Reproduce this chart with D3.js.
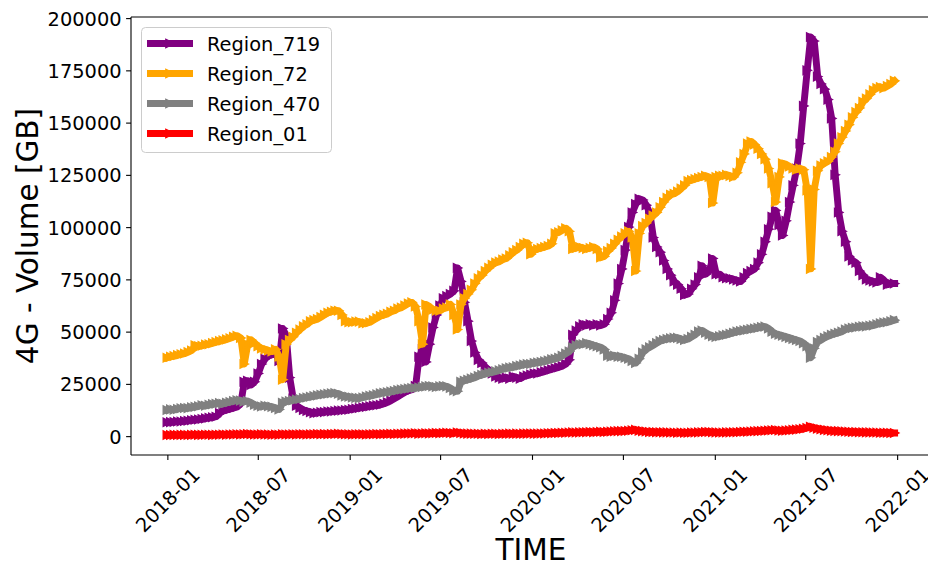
<!DOCTYPE html>
<html><head><meta charset="utf-8">
<script src="https://cdn.jsdelivr.net/npm/d3@7"></script>
<style>body{margin:0;background:#fff}svg{display:block}text{font-family:"DejaVu Sans",sans-serif;fill:#000}</style>
</head><body><svg id="c" width="928" height="567"></svg>
<script>
// ---- data (values in thousand GB, weekly from startDate) ----
const startDate = "2018-01-01";
const seriesNames = ["Region_719", "Region_72", "Region_470", "Region_01"];
const seriesColors = ["#800080", "#ffa500", "#808080", "#ff0000"];

const region719 = [
  6.6,6.7,6.8,7.0,7.0,7.2,7.4,7.6,7.8,8.0,
  8.2,8.5,8.8,9.0,9.3,11.0,12.0,12.5,13.0,13.5,
  14.0,15.5,26.0,26.5,24.5,26.0,30.0,34.5,37.0,38.5,
  39.0,39.5,36.0,51.5,48.0,28.0,18.0,14.5,13.5,12.5,
  12.0,11.5,11.0,11.2,11.5,11.5,11.8,11.8,12.0,12.2,
  12.3,12.5,12.6,13.0,13.2,13.5,13.8,14.0,14.3,14.6,
  14.8,15.0,15.5,16.2,17.0,18.0,19.0,20.0,21.0,21.8,
  22.2,24.0,38.0,41.5,35.5,44.0,52.0,58.0,62.5,66.0,
  67.0,68.0,69.5,80.5,74.0,64.0,55.0,45.5,40.0,36.5,
  35.0,33.0,31.5,30.0,28.5,28.0,27.5,28.0,27.5,28.5,
  28.0,27.5,28.5,29.0,29.5,30.0,30.0,30.5,31.0,31.5,
  32.0,32.5,33.0,33.5,34.5,36.5,48.5,50.5,52.5,53.5,
  53.0,53.5,53.0,53.5,53.0,53.5,56.0,59.0,65.0,73.0,
  80.0,89.0,100.0,107.0,111.0,113.5,113.0,110.5,106.5,95.0,
  90.5,88.0,84.0,80.0,77.0,74.0,72.5,70.5,67.5,68.0,
  70.5,72.5,76.0,81.5,77.5,79.0,85.0,77.5,77.5,76.0,
  75.5,75.5,75.0,74.5,74.0,76.0,78.0,79.0,80.0,83.0,
  87.0,93.0,99.0,105.0,108.0,101.0,96.0,103.0,112.0,120.0,
  128.0,140.0,158.0,175.0,191.0,189.0,172.0,168.5,166.0,161.0,
  152.0,125.0,107.0,98.0,93.0,86.0,84.0,83.0,79.0,77.0,
  75.0,74.5,74.0,73.5,76.0,74.5,72.5,73.0,73.0
];
const region72 = [
  37.5,38.0,38.3,38.8,39.2,39.5,40.2,41.0,43.5,43.0,
  43.2,43.8,44.0,44.5,45.0,45.5,45.8,46.3,46.8,47.5,
  48.0,47.0,34.5,44.0,46.0,44.5,43.0,42.0,41.5,41.0,
  40.5,41.5,38.0,27.0,44.0,46.0,47.5,49.5,51.0,52.5,
  53.5,55.0,55.5,56.0,57.0,58.0,59.0,59.5,60.0,60.0,
  58.0,55.0,54.5,54.5,54.8,54.8,54.0,54.0,54.5,55.5,
  56.5,57.5,58.0,58.5,59.5,60.0,61.0,61.5,62.5,63.5,
  64.0,62.0,55.0,44.0,63.0,62.0,60.5,60.0,60.0,61.0,
  61.5,63.0,58.0,51.0,63.0,66.0,68.0,70.0,73.0,75.5,
  77.0,79.0,80.5,82.0,83.0,83.5,84.5,85.0,86.5,88.0,
  89.0,90.5,92.0,92.5,87.0,89.0,89.5,90.0,90.5,91.0,
  92.0,97.0,97.5,98.5,99.5,98.0,89.5,90.0,90.5,90.0,
  89.5,90.0,90.5,89.5,85.5,86.0,88.5,90.0,92.0,94.0,
  95.5,97.0,98.0,95.0,79.0,97.0,100.5,102.0,104.0,105.5,
  107.0,109.5,112.0,114.0,115.5,116.0,117.0,118.5,120.0,122.0,
  122.5,123.0,123.5,124.0,124.5,124.0,111.5,124.0,124.5,124.5,
  125.0,124.5,124.0,126.0,131.0,135.0,140.0,141.0,139.5,137.5,
  135.0,132.5,128.0,121.0,112.0,124.0,130.5,130.0,129.0,128.0,
  127.5,128.0,127.5,117.5,80.0,118.0,127.0,129.5,130.5,131.5,
  133.5,136.0,140.0,143.0,146.0,149.0,152.5,155.0,157.0,160.0,
  161.5,163.5,165.5,166.5,167.0,166.5,167.5,168.5,170.0
];
const region470 = [
  12.5,12.8,12.6,13.0,13.3,13.5,13.4,13.8,14.0,14.3,
  14.8,14.5,15.0,15.3,15.5,15.8,15.5,16.0,16.3,16.8,
  17.2,17.0,16.5,16.8,16.0,15.0,14.5,14.2,14.5,14.3,
  14.0,13.5,12.8,16.0,16.5,16.8,17.2,17.5,17.8,18.2,
  18.5,18.8,19.2,19.5,19.8,20.0,20.3,20.5,20.6,20.3,
  19.5,19.0,18.8,18.5,18.3,18.2,18.5,19.0,19.3,19.6,
  20.0,20.5,20.8,21.0,21.3,21.6,22.0,22.3,22.5,22.8,
  23.0,23.0,23.3,23.5,23.8,24.0,23.8,23.5,23.8,24.0,
  23.8,23.0,21.8,21.5,26.0,26.5,27.0,27.5,28.0,28.8,
  29.3,29.8,30.3,30.6,31.0,31.5,32.0,32.5,32.8,33.0,
  33.5,33.8,34.2,34.5,34.5,35.0,35.2,35.5,35.8,36.2,
  36.8,37.0,37.5,38.5,39.5,40.5,42.5,43.5,44.0,44.0,
  44.5,44.0,43.5,43.0,42.5,41.5,38.5,38.0,38.5,38.0,
  38.0,37.5,37.0,36.0,35.0,37.0,40.0,41.5,42.5,43.5,
  44.5,45.5,46.0,46.5,46.8,47.0,47.0,46.5,46.0,46.5,
  47.5,48.5,50.0,50.5,49.5,48.5,47.8,47.5,47.8,48.2,
  48.5,49.0,49.5,50.0,50.3,50.6,50.9,51.2,51.5,51.8,
  52.2,52.4,51.5,50.0,49.0,48.5,48.0,47.5,47.0,46.5,
  46.0,45.5,44.5,43.0,37.5,42.0,45.0,46.0,47.0,47.8,
  48.5,49.0,49.5,50.0,51.0,51.5,51.8,52.0,52.3,52.5,
  52.5,52.8,53.0,53.5,54.0,54.3,54.5,55.0,55.5
];
const region01 = [
  0.5,0.5,0.6,0.5,0.6,0.6,0.5,0.6,0.7,0.6,
  0.6,0.7,0.7,0.6,0.7,0.7,0.8,0.7,0.8,0.8,
  0.9,0.8,0.9,1.0,0.9,0.8,0.8,0.9,0.8,0.8,
  0.7,0.8,0.7,0.9,0.8,0.8,0.9,0.8,0.9,0.9,
  0.8,0.9,0.9,1.0,0.9,1.0,0.9,1.0,1.0,1.1,
  1.0,0.9,0.9,0.8,0.9,0.9,0.9,0.8,0.9,0.9,
  1.0,0.9,1.0,1.0,1.1,1.0,1.1,1.1,1.2,1.3,
  1.3,1.4,1.2,1.3,1.4,1.3,1.4,1.5,1.4,1.5,
  1.6,1.5,1.4,1.7,1.5,1.3,1.2,1.2,1.1,1.1,
  1.0,1.1,1.0,1.1,1.1,1.0,1.1,1.1,1.2,1.1,
  1.2,1.1,1.2,1.2,1.3,1.2,1.2,1.3,1.3,1.4,
  1.4,1.5,1.5,1.6,1.6,1.7,1.8,1.7,1.8,1.9,
  1.9,2.0,1.9,2.0,2.1,2.0,2.1,2.2,2.3,2.4,
  2.4,2.5,2.6,2.8,3.0,2.6,2.4,2.2,2.0,2.0,
  1.9,1.9,1.8,1.8,1.7,1.7,1.6,1.7,1.6,1.6,
  1.7,1.7,1.8,1.9,2.0,2.0,1.9,1.8,1.7,1.7,
  1.8,1.8,1.9,1.9,2.0,2.1,2.1,2.2,2.3,2.4,
  2.5,2.6,2.7,2.8,2.9,2.7,2.6,2.7,2.8,3.0,
  3.1,3.3,3.5,3.9,4.5,4.0,3.6,3.3,3.0,2.8,
  2.6,2.5,2.4,2.3,2.2,2.1,2.0,2.0,1.9,1.9,
  1.8,1.8,1.7,1.7,1.6,1.6,1.6,1.5,1.5
];
const yTickValues = [0, 25000, 50000, 75000, 100000, 125000, 150000, 175000, 200000];
const xTickLabels = ["2018-01","2018-07","2019-01","2019-07","2020-01","2020-07","2021-01","2021-07","2022-01"];
const xLabel = "TIME";
const yLabel = "4G - Volume [GB]";

// ---- layout ----
const W = 928, H = 567;
const plot = {left: 131, right: 931, top: 17, bottom: 455};
const lineW = 6.9, markSize = 8.3, markEdge = 1.4;
const tickFont = 19.4, labelFont = 29.5;

const svg = d3.select("#c");
const series = [region719, region72, region470, region01];
const t0 = d3.utcParse("%Y-%m-%d")(startDate);
const dates = region719.map((_, i) => d3.utcDay.offset(t0, 7 * i));

const tMin = dates[0], tMax = dates[dates.length - 1];
const span = tMax - tMin;
const x = d3.scaleUtc()
  .domain([new Date(+tMin - 0.05 * span), new Date(+tMax + 0.05 * span)])
  .range([plot.left, plot.right]);

const allV = series.flat().map(v => v * 1000);
const vMin = d3.min(allV), vMax = d3.max(allV), vs = vMax - vMin;
const y = d3.scaleLinear()
  .domain([vMin - 0.05 * vs, vMax + 0.05 * vs])
  .range([plot.bottom, plot.top]);

svg.append("defs").append("clipPath").attr("id", "clip")
  .append("rect").attr("x", plot.left).attr("y", plot.top)
  .attr("width", plot.right - plot.left).attr("height", plot.bottom - plot.top);

const tri = `M${markSize/2},0L${-markSize/2},${-markSize/2}L${-markSize/2},${markSize/2}Z`;
const line = d3.line().x(d => x(d.t)).y(d => y(d.v));

const g = svg.append("g").attr("clip-path", "url(#clip)");
series.forEach((arr, k) => {
  const pts = arr.map((v, i) => ({t: dates[i], v: v * 1000}));
  const col = seriesColors[k];
  g.append("path").datum(pts).attr("d", line)
    .attr("fill", "none").attr("stroke", col).attr("stroke-width", lineW)
    .attr("stroke-linejoin", "round").attr("stroke-linecap", "square");
  g.append("g").selectAll("path").data(pts).join("path")
    .attr("d", tri).attr("transform", d => `translate(${x(d.t)},${y(d.v)})`)
    .attr("fill", col).attr("stroke", col).attr("stroke-width", markEdge)
    .attr("stroke-linejoin", "miter");
});

// axes
const ax = svg.append("g");
const yAxis = d3.axisLeft(y).tickValues(yTickValues).tickSize(4.9).tickPadding(4.5).tickFormat(d3.format("d"));
ax.append("g").attr("transform", `translate(${plot.left},0)`).call(yAxis)
  .call(s => s.select(".domain").remove())
  .call(s => s.selectAll("text").attr("font-size", tickFont).attr("font-family", "DejaVu Sans").attr("dy", "0.36em"))
  .call(s => s.selectAll("line").attr("stroke", "#000").attr("stroke-width", 1.1));

const xTickDates = xTickLabels.map(s => d3.utcParse("%Y-%m")(s));
const xAxis = d3.axisBottom(x).tickValues(xTickDates).tickSize(4.9).tickFormat(d3.utcFormat("%Y-%m"));
ax.append("g").attr("transform", `translate(0,${plot.bottom})`).call(xAxis)
  .call(s => s.select(".domain").remove())
  .call(s => s.selectAll("line").attr("stroke", "#000").attr("stroke-width", 1.1))
  .call(s => s.selectAll("text").attr("font-size", tickFont).attr("font-family", "DejaVu Sans")
    .attr("text-anchor", "middle").attr("y", 0).attr("dy", "0.35em")
    .attr("transform", "translate(0,45) rotate(-45)"));

// spines
const sp = svg.append("g").attr("stroke", "#000").attr("stroke-width", 1.1).attr("fill", "none");
sp.append("line").attr("x1", plot.left).attr("x2", plot.left).attr("y1", plot.top).attr("y2", plot.bottom);
sp.append("line").attr("x1", plot.left).attr("x2", plot.right).attr("y1", plot.bottom).attr("y2", plot.bottom);
sp.append("line").attr("x1", plot.left).attr("x2", plot.right).attr("y1", plot.top).attr("y2", plot.top);
sp.append("line").attr("x1", plot.right).attr("x2", plot.right).attr("y1", plot.top).attr("y2", plot.bottom);

// axis labels
svg.append("text").attr("x", (plot.left + plot.right) / 2).attr("y", 560)
  .attr("text-anchor", "middle").attr("font-size", labelFont).text(xLabel);
svg.append("text").attr("transform", `translate(38,${(plot.top + plot.bottom) / 2}) rotate(-90)`)
  .attr("text-anchor", "middle").attr("font-size", labelFont).text(yLabel);

// legend
const lg = svg.append("g");
lg.append("rect").attr("x", 141.5).attr("y", 27.5).attr("width", 190).attr("height", 125).attr("rx", 4)
  .attr("fill", "#fff").attr("fill-opacity", 0.8).attr("stroke", "#cccccc").attr("stroke-width", 1);
seriesNames.forEach((name, k) => {
  const yy = 43.5 + 30 * k;
  const col = seriesColors[k];
  lg.append("line").attr("x1", 147).attr("x2", 193).attr("y1", yy).attr("y2", yy)
    .attr("stroke", col).attr("stroke-width", lineW);
  lg.append("path").attr("d", tri).attr("transform", `translate(170,${yy})`)
    .attr("fill", col).attr("stroke", col).attr("stroke-width", markEdge);
  lg.append("text").attr("x", 207).attr("y", yy + 7).attr("font-size", tickFont).text(name);
});
</script></body></html>
